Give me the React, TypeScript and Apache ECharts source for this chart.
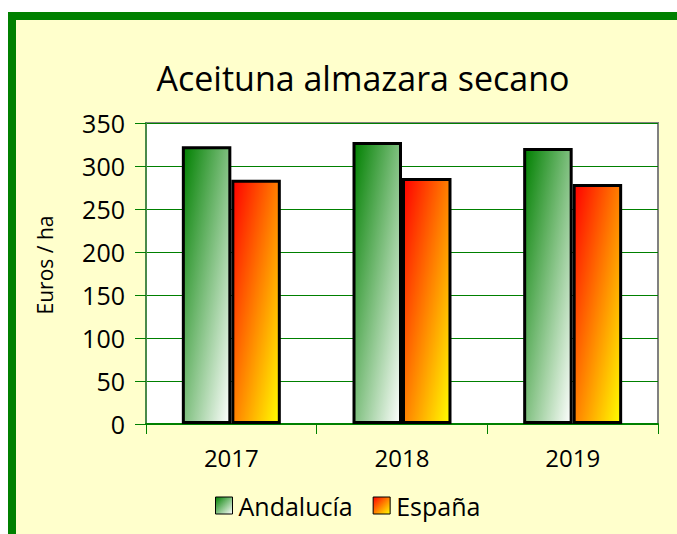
import React, { useEffect, useRef } from "react";
import * as echarts from "echarts";

const titleText = "Aceituna almazara secano";
const categories = ["2017", "2018", "2019"];
const andalucia = [323, 328, 321];
const espana = [284, 286, 279];
const yAxisName = "Euros / ha";
const seriesNames = ["Andalucía", "España"];

const FONT = "Open Sans";

export default function App() {
  const ref = useRef<HTMLDivElement>(null);
  useEffect(() => {
    if (!ref.current) return;
    const chart = echarts.init(ref.current, undefined, { renderer: "svg" });
    const greenGrad = new echarts.graphic.LinearGradient(0, 0, 1, 1, [
      { offset: 0, color: "#008000" },
      { offset: 1, color: "#ffffff" },
    ]);
    const redGrad = new echarts.graphic.LinearGradient(0, 0, 1, 1, [
      { offset: 0, color: "#ff0000" },
      { offset: 0.5, color: "#ff8000" },
      { offset: 1, color: "#ffff00" },
    ]);
    chart.setOption({
      animation: false,
      backgroundColor: "transparent",
      graphic: [
        {
          type: "text",
          x: 363,
          y: 78,
          style: {
            text: titleText,
            font: `34px "${FONT}"`,
            fill: "#000",
            textAlign: "center",
            textVerticalAlign: "middle",
          },
        },
        {
          type: "text",
          x: 45,
          y: 265,
          rotation: Math.PI / 2,
          style: {
            text: yAxisName,
            font: `21px "${FONT}"`,
            fill: "#000",
            textAlign: "center",
            textVerticalAlign: "middle",
          },
        },
      ],
      grid: {
        left: 146,
        right: 19,
        top: 123,
        bottom: 110,
        show: true,
        backgroundColor: "#ffffff",
        borderColor: "#808080",
        borderWidth: 2,
      },
      legend: {
        left: 215,
        top: 493,
        padding: 0,
        itemWidth: 17,
        itemHeight: 17,
        itemGap: 20,
        icon: "rect",
        itemStyle: { borderWidth: 1, borderColor: "#000" },
        textStyle: { fontFamily: FONT, fontSize: 25, color: "#000", padding: [0, 0, 0, 1] },
        data: seriesNames,
      },
      xAxis: {
        type: "category",
        data: categories,
        axisLine: { show: true, lineStyle: { color: "#008000", width: 2 } },
        axisTick: { show: true, length: 10, lineStyle: { color: "#008000", width: 1 } },
        axisLabel: { fontFamily: FONT, fontSize: 24, color: "#000", margin: 21 },
      },
      yAxis: {
        type: "value",
        min: 0,
        max: 350,
        interval: 50,
        axisLine: { show: true, lineStyle: { color: "#4a8a4a", width: 2 } },
        axisTick: { show: true, length: 11, lineStyle: { color: "#008000", width: 1 } },
        axisLabel: { fontFamily: FONT, fontSize: 25, color: "#000", margin: 21 },
        splitLine: { show: true, lineStyle: { color: "#008000", width: 1 } },
      },
      series: [
        {
          name: seriesNames[0],
          type: "bar",
          data: andalucia,
          barGap: "0%",
          barCategoryGap: "42%",
          itemStyle: { color: greenGrad, borderColor: "#000", borderWidth: 3 },
        },
        {
          name: seriesNames[1],
          type: "bar",
          data: espana,
          barGap: "0%",
          barCategoryGap: "42%",
          itemStyle: { color: redGrad, borderColor: "#000", borderWidth: 3 },
        },
      ],
    });
    return () => chart.dispose();
  }, []);
  return (
    <div style={{ position: "fixed", left: 0, top: 0, width: 677, height: 534, background: "#ffffff", overflow: "hidden" }}>
      <div
        style={{
          position: "absolute",
          left: 8,
          top: 12,
          width: 720,
          height: 600,
          background: "#FFFFCC",
          borderLeft: "8.5px solid #008000",
          borderTop: "8.5px solid #008000",
        }}
      />
      <div ref={ref} style={{ position: "absolute", left: 0, top: 0, width: 677, height: 534 }} />
    </div>
  );
}
